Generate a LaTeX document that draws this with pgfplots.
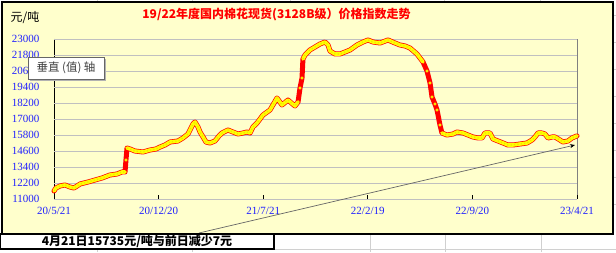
\documentclass[border=0pt]{standalone}
\usepackage{pgfplots}
\pgfplotsset{compat=1.18}
\usepackage{fontspec}
\setmainfont{Liberation Serif}
\newfontfamily\cjk{Noto Sans CJK SC}
\usetikzlibrary{arrows.meta}
\definecolor{bg}{HTML}{FFFFCC}
\definecolor{tickblue}{HTML}{2020FF}
\definecolor{gridc}{HTML}{C0C0C0}
\definecolor{sheet}{HTML}{D0D0D0}
\definecolor{ylw}{HTML}{FFFF00}
\definecolor{ylwd}{HTML}{F2E200}
\begin{document}
\begin{tikzpicture}[x=1pt,y=1pt]
\useasboundingbox (0,0) rectangle (616,252);
\fill[white] (0,0) rectangle (616,252);
% spreadsheet lines outside the chart
\draw[sheet, line width=0.8pt] (274,3)--(616,3);
\foreach \xx in {370,445,541} \draw[sheet,line width=0.8pt] (\xx,0)--(\xx,18);
\foreach \xx in {97,192} \draw[sheet,line width=0.8pt] (\xx,0)--(\xx,3);
\foreach \xx in {97,192,290,444,540} \draw[sheet,line width=0.8pt] (\xx,250)--(\xx,252);
\foreach \yy in {237,210,183,156,129,102,75,48} \draw[sheet,line width=0.8pt] (613,\yy)--(616,\yy);
% chart area
\fill[bg] (2,18) rectangle (613,250);
\draw[black,line width=1.3pt] (2,18) rectangle (613,250);
% plot frame
\draw[gray,line width=0.9pt] (54,213)--(577,213)--(577,53);
\draw[black,line width=1pt] (54,213)--(54,53)--(577,53);
% title and unit
\node[text=red,font={\cjk\bfseries\fontsize{12}{14}\selectfont}] at (276.5,237) {19/22年度国内棉花现货(3128B级）价格指数走势};
\node[font={\cjk\fontsize{12}{14}\selectfont}] at (25,234.5) {元/吨};
\pgfplotstableread{
x y
0 11600
0.019 11825
0.057 11975
0.105 12050
0.153 11900
0.191 11825
0.249 12125
0.325 12275
0.392 12425
0.459 12575
0.535 12800
0.602 12875
0.650 13025
0.679 13025
0.688 13925
0.698 14825
0.727 14750
0.774 14600
0.851 14525
0.918 14675
0.975 14750
1.014 14900
1.061 15050
1.109 15275
1.185 15350
1.233 15575
1.281 15875
1.329 16625
1.348 16775
1.377 16400
1.396 16025
1.425 15650
1.453 15275
1.491 15200
1.539 15350
1.577 15725
1.606 15950
1.663 16175
1.711 16025
1.759 15875
1.807 15950
1.845 16025
1.874 15950
1.902 16400
1.941 16700
1.998 17300
2.065 17675
2.132 18575
2.180 18050
2.237 18425
2.270 18200
2.304 17975
2.333 18275
2.352 19325
2.371 20075
2.380 21500
2.400 21800
2.447 22175
2.495 22400
2.543 22625
2.591 22775
2.620 22550
2.639 22100
2.686 21875
2.734 21875
2.782 22025
2.830 22175
2.897 22550
2.954 22775
3.002 22925
3.050 22775
3.117 22700
3.193 22925
3.260 22700
3.308 22550
3.356 22475
3.403 22325
3.470 21875
3.528 21275
3.566 20600
3.595 19700
3.614 18650
3.642 18125
3.662 17675
3.690 16550
3.709 15950
3.757 15800
3.815 15875
3.853 16025
3.910 15950
3.958 15800
4.006 15650
4.054 15575
4.092 15575
4.120 15950
4.168 15950
4.197 15500
4.245 15350
4.293 15200
4.340 15050
4.388 15050
4.455 15125
4.522 15200
4.570 15425
4.598 15650
4.627 15950
4.665 15950
4.694 15875
4.723 15575
4.761 15650
4.790 15650
4.837 15425
4.866 15275
4.914 15350
4.952 15575
5.000 15735
}\cotton
\pgfplotstableread{
x y
0 11600
0.019 11825
0.057 11975
0.105 12050
0.153 11900
0.191 11825
0.249 12125
0.325 12275
0.392 12425
0.459 12575
0.535 12800
0.602 12875
0.650 13025
0.679 13025
0.688 nan
0.698 14825
0.727 14750
0.774 14600
0.851 14525
0.918 14675
0.975 14750
1.014 14900
1.061 15050
1.109 15275
1.185 15350
1.233 15575
1.281 15875
1.329 16625
1.348 16775
1.377 16400
1.396 16025
1.425 15650
1.453 15275
1.491 15200
1.539 15350
1.577 15725
1.606 15950
1.663 16175
1.711 16025
1.759 15875
1.807 15950
1.845 16025
1.874 15950
1.902 16400
1.941 16700
1.998 17300
2.065 17675
2.132 18575
2.180 18050
2.237 18425
2.270 18200
2.304 17975
2.333 18275
2.352 nan
2.371 nan
2.380 21500
2.400 21800
2.447 22175
2.495 22400
2.543 22625
2.591 22775
2.620 22550
2.639 22100
2.686 21875
2.734 21875
2.782 22025
2.830 22175
2.897 22550
2.954 22775
3.002 22925
3.050 22775
3.117 22700
3.193 22925
3.260 22700
3.308 22550
3.356 22475
3.403 22325
3.470 21875
3.528 21275
3.566 nan
3.595 nan
3.614 nan
3.642 nan
3.662 nan
3.690 nan
3.709 15950
3.757 15800
3.815 15875
3.853 16025
3.910 15950
3.958 15800
4.006 15650
4.054 15575
4.092 15575
4.120 15950
4.168 15950
4.197 15500
4.245 15350
4.293 15200
4.340 15050
4.388 15050
4.455 15125
4.522 15200
4.570 15425
4.598 15650
4.627 15950
4.665 15950
4.694 15875
4.723 15575
4.761 15650
4.790 15650
4.837 15425
4.866 15275
4.914 15350
4.952 15575
5.000 15735
}\cottonyel
\begin{axis}[at={(54pt,53pt)}, anchor=south west, scale only axis,
  width=523pt, height=160pt,
  xmin=0, xmax=5, ymin=11000, ymax=23000,
  axis line style={draw=none},
  xtick={0,1,2,3,4,5},
  xticklabels={20/5/21,20/12/20,21/7/21,22/2/19,22/9/20,23/4/21},
  ytick={11000,12200,13400,14600,15800,17000,18200,19400,20600,21800,23000},
  scaled y ticks=false,
  /pgf/number format/assume math mode=true,
  /pgf/number format/1000 sep={},
  ymajorgrids, grid style={gridc, line width=0.8pt},
  xtick pos=left, tick align=inside, major tick length=4pt,
  xtick style={black, line width=0.8pt},
  ytick style={draw=none},
  yticklabel style={font=\fontsize{11}{13}\selectfont, text=tickblue, xshift=-11pt},
  xticklabel style={font=\fontsize{11}{13}\selectfont, text=tickblue, yshift=-5pt},
  clip=false,
]
\addplot[red, line width=5pt, line join=round, line cap=round] table[x=x,y=y] {\cotton};
\addplot[ylw, line width=3.6pt, line join=round, line cap=round, unbounded coords=jump] table[x=x,y=y] {\cottonyel};
\addplot[ylwd, line width=1.1pt, dash pattern=on 1.2pt off 2.2pt, unbounded coords=jump] table[x=x,y=y] {\cottonyel};
\addplot[only marks, mark=*, mark size=1.4pt, mark options={fill=ylw, draw=ylwd, line width=0.3pt}] coordinates {
(0.688,13925) (2.333,18275) (2.352,19325) (2.371,20075)
(3.566,20600) (3.595,19700) (3.614,18650) (3.642,18125) (3.662,17675) (3.690,16550)
};
\end{axis}
% tooltip box
\fill[gray!60] (30,171) rectangle (106,193);
\fill[white] (28,173) rectangle (104,195);
\draw[gray!80!black, line width=0.7pt] (28,173) rectangle (104,195);
\node[text=black!75, font={\cjk\fontsize{11.5}{13}\selectfont}] at (66,184) {垂直 (值) 轴};
% arrow
\draw[black!60, line width=0.7pt, -{Stealth[length=5pt,width=4pt,black]}] (199,19) -- (575,107);
% bottom text box
\fill[white] (0,3) rectangle (274,18);
\draw[black, line width=1.2pt] (0.6,3) rectangle (274,18);
\node[font={\cjk\bfseries\fontsize{12}{14}\selectfont}] at (137,10.5) {4月21日15735元/吨与前日减少7元};
\end{tikzpicture}
\end{document}
